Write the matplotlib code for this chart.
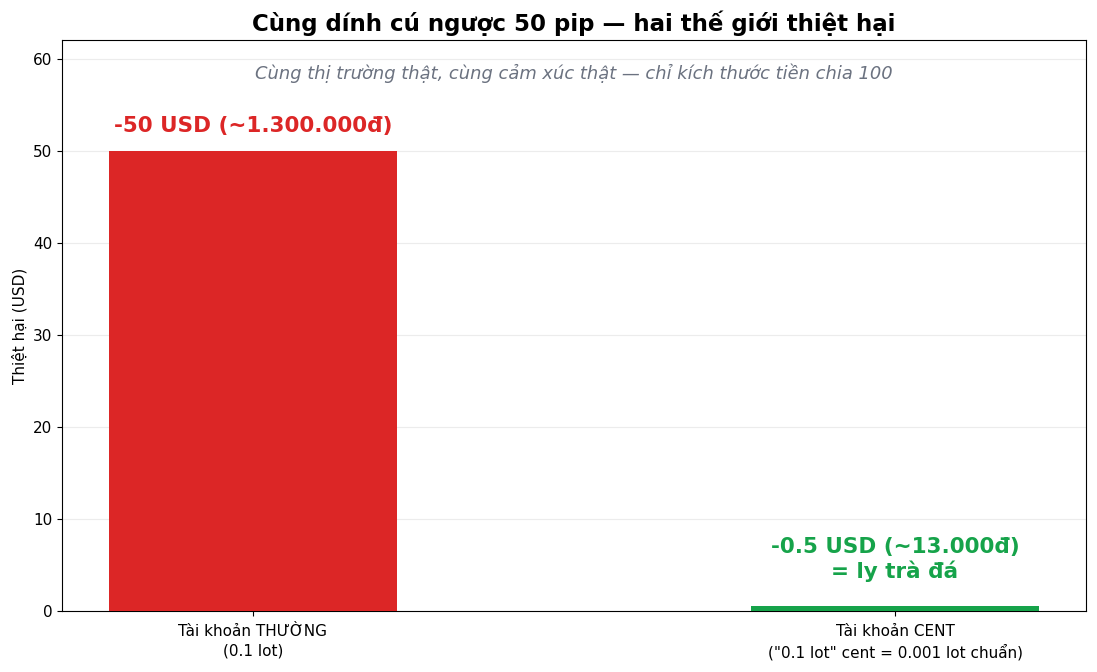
import matplotlib
matplotlib.use('Agg')
import matplotlib.pyplot as plt

# data
labels = ['Tài khoản THƯỜNG\n(0.1 lot)', 'Tài khoản CENT\n("0.1 lot" cent = 0.001 lot chuẩn)']
losses = [50, 0.5]
colors = ['#dc2626', '#16a34a']
notes = ['-50 USD (~1.300.000đ)', '-0.5 USD (~13.000đ)\n= ly trà đá']

fig, ax = plt.subplots(figsize=(10.97, 6.72), dpi=100)
x = range(len(labels))
bars = ax.bar(x, losses, width=0.45, color=colors, zorder=3)

ax.set_xticks(list(x))
ax.set_xticklabels(labels, fontsize=11, linespacing=1.35)
ax.tick_params(axis='x', pad=6)
ax.tick_params(axis='y', labelsize=11)
ax.set_ylabel('Thiệt hại (USD)', fontsize=11)
ax.set_ylim(0, 62)
ax.grid(axis='y', color='#ececec', linewidth=0.8, zorder=0)

ax.text(0, losses[0] + 2.7, notes[0], ha='center', va='center',
        fontsize=15.5, fontweight='bold', color=colors[0])
ax.text(1, 5.6, notes[1], ha='center', va='center',
        fontsize=15.5, fontweight='bold', color=colors[1], linespacing=1.2)

ax.text(0.5, 0.942, 'Cùng thị trường thật, cùng cảm xúc thật — chỉ kích thước tiền chia 100',
        transform=ax.transAxes, ha='center', va='center', fontsize=12.9,
        style='italic', color='#6b7280')

ax.set_title('Cùng dính cú ngược 50 pip — hai thế giới thiệt hại',
             fontsize=16.5, fontweight='bold', pad=7)

plt.subplots_adjust(left=0.0565, right=0.99, top=0.94, bottom=0.091)
plt.savefig('out.png')
